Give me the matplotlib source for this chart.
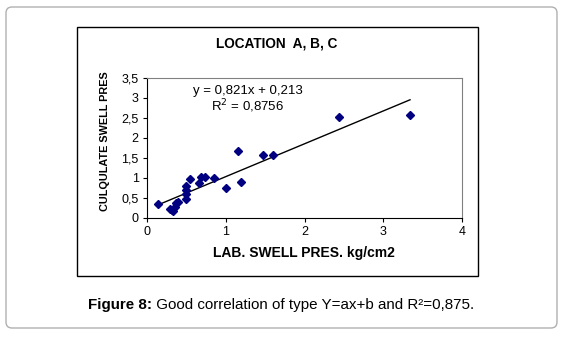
import matplotlib.pyplot as plt
from matplotlib.patches import FancyBboxPatch, Rectangle
from matplotlib.ticker import FuncFormatter
from matplotlib import font_manager

plt.rcParams['font.family'] = ['Liberation Sans', 'DejaVu Sans']

# lab swell pressure vs calculated swell pressure (kg/cm2)
lab_pres = [0.144, 0.29, 0.32, 0.33, 0.35, 0.37, 0.39, 0.495, 0.495, 0.495, 0.495,
            0.546, 0.66, 0.686, 0.74, 0.855, 1.0, 1.15, 1.19, 1.47, 1.6, 2.44, 3.34]
calc_pres = [0.34, 0.22, 0.2, 0.17, 0.28, 0.38, 0.41, 0.47, 0.59, 0.7, 0.8,
             0.97, 0.87, 1.02, 1.02, 0.99, 0.74, 1.67, 0.89, 1.58, 1.58, 2.52, 2.58]
slope = 0.821
intercept = 0.213

W, H = 564, 340
fig = plt.figure(figsize=(W / 100, H / 100), dpi=100)

bg = fig.add_axes([0, 0, 1, 1])
bg.set_xlim(0, W)
bg.set_ylim(H, 0)
bg.axis('off')

# outer rounded box
bg.add_patch(FancyBboxPatch((6, 7), 551, 321, boxstyle='round,pad=0,rounding_size=6',
                            fc='white', ec='#b0b0b0', lw=1))
# chart frame
bg.add_patch(Rectangle((77, 27), 401, 249, fc='white', ec='black', lw=1))

ax = fig.add_axes([147 / W, 1 - 218 / H, 315 / W, 140 / H])
ax.plot(lab_pres, calc_pres, 'D', color='#000080', markersize=4.3, zorder=3)
x0, x1 = min(lab_pres), max(lab_pres)
ax.plot([x0, x1], [slope * x0 + intercept, slope * x1 + intercept], color='black', lw=1)

ax.set_xlim(0, 4)
ax.set_ylim(0, 3.5)
ax.set_xticks([0, 1, 2, 3, 4])
ax.set_yticks([0, 0.5, 1, 1.5, 2, 2.5, 3, 3.5])
ax.yaxis.set_major_formatter(FuncFormatter(lambda v, p: ('%g' % v).replace('.', ',')))
ax.tick_params(labelsize=9, length=3, width=0.8, direction='out', pad=3)
for s in ['top', 'right']:
    ax.spines[s].set_color('#808080')
for s in ['left', 'bottom']:
    ax.spines[s].set_color('black')

ax.text(0.32, 0.905, 'y = 0,821x + 0,213', transform=ax.transAxes, ha='center', va='center', fontsize=9.5)
ax.text(0.32, 0.795, 'R$^2$ = 0,8756', transform=ax.transAxes, ha='center', va='center', fontsize=9.5)

bg.text(277, 44, 'LOCATION  A, B, C', ha='center', va='center', fontsize=9.8, fontweight='bold')
bg.text(304, 253, 'LAB. SWELL PRES. kg/cm2', ha='center', va='center', fontsize=10, fontweight='bold')

# narrow face for the y label if it is installed
names = {f.name for f in font_manager.fontManager.ttflist}
if 'Liberation Sans Narrow' in names:
    bg.text(105, 141, 'CULQULATE SWELL PRES', ha='center', va='center', rotation=90,
            fontsize=9.5, fontweight='bold', family='Liberation Sans Narrow')
else:
    bg.text(105, 141, 'CULQULATE SWELL PRES', ha='center', va='center', rotation=90,
            fontsize=7.8, fontweight='bold')

t1 = bg.text(88, 305, 'Figure 8:', ha='left', va='center', fontsize=10.9, fontweight='bold')
bg.annotate(' Good correlation of type Y=ax+b and R\u00b2=0,875.', xy=(1, 0.5), xycoords=t1,
            ha='left', va='center', fontsize=10.9)

fig.savefig('out.png', dpi=100)
